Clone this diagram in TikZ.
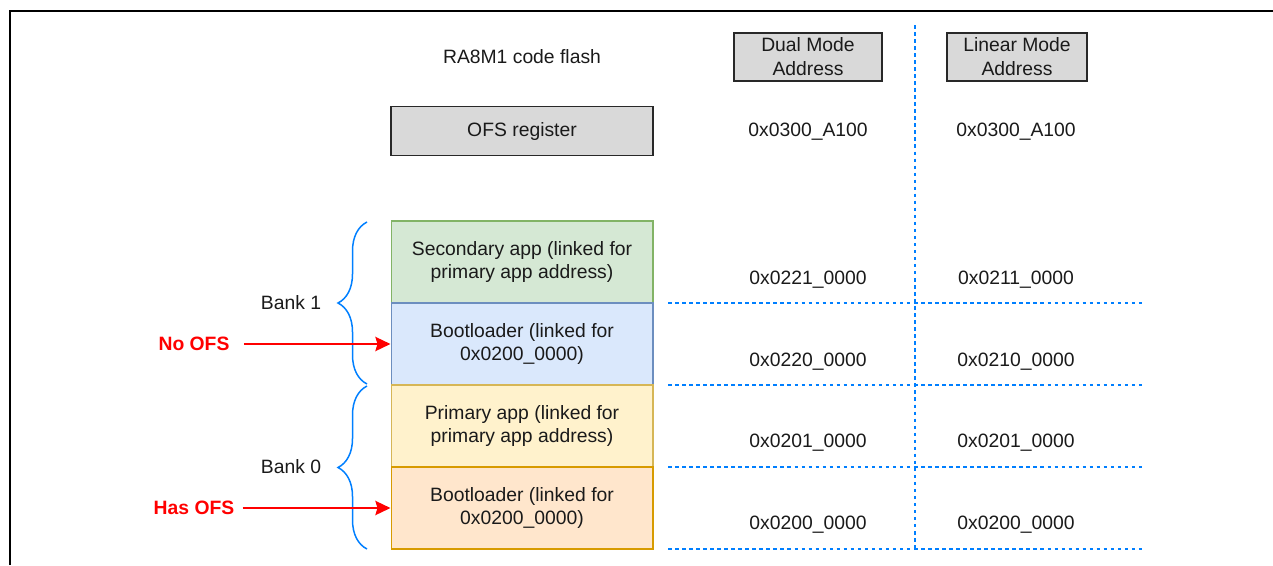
\documentclass[tikz,border=0pt]{standalone}
\usepackage{fontspec}
\setmainfont{Liberation Sans}
\usetikzlibrary{arrows.meta}
\usetikzlibrary{decorations.pathreplacing}
\usepackage{xcolor}

\definecolor{hdrgray}{RGB}{217,217,217}
\definecolor{hdrline}{RGB}{40,40,40}
\definecolor{linkblue}{RGB}{0,127,255}
\definecolor{ofsred}{RGB}{255,0,0}
\definecolor{greenfill}{RGB}{213,232,212}
\definecolor{greenline}{RGB}{130,179,102}
\definecolor{bluefill}{RGB}{218,232,252}
\definecolor{blueline}{RGB}{108,142,191}
\definecolor{yellowfill}{RGB}{255,242,204}
\definecolor{yellowline}{RGB}{214,182,86}
\definecolor{orangefill}{RGB}{255,230,204}
\definecolor{orangeline}{RGB}{215,155,0}
\definecolor{inktext}{RGB}{26,26,26}

\begin{document}
\begin{tikzpicture}[x=0.02cm,y=-0.02cm]

    \tikzset{txt/.style = {inner sep=0pt,text=inktext,font=\fontsize{11}{13.6}\selectfont,align=center}}
    \tikzset{hdr/.style = {txt,draw=hdrline,fill=hdrgray,line width=0.7pt}}
    \tikzset{block/.style = {txt,draw,line width=0.6pt,minimum width=5.24cm,minimum height=1.64cm}}
    \tikzset{addrline/.style = {draw=linkblue,line width=0.85pt,dash pattern=on 2pt off 2pt}}
    \tikzset{bank/.style = {draw=linkblue,line width=0.85pt,decorate,decoration={brace,amplitude=0.58cm}}}
    \tikzset{ofsarrow/.style = {->,> = {Stealth[length=0.3cm,width=0.28cm,inset=0.04cm]},draw=ofsred,line width=1.6pt}}
    \tikzset{ofslabel/.style = {txt,text=ofsred,font=\fontsize{11}{13.6}\selectfont\bfseries}}

    \useasboundingbox (0,0) rectangle (1273,565);
    \draw[line width=0.04cm] (10,565) -- (10,11) -- (1273,11);

    %headers
    \node[txt] (title) at (522,57) {RA8M1 code flash};
    \node[hdr,minimum width=2.96cm,minimum height=0.96cm] (dual) at (808,57) {Dual Mode\\Address};
    \node[hdr,minimum width=2.8cm,minimum height=0.96cm] (linear) at (1017,57) {Linear Mode\\Address};
    \node[hdr,minimum width=5.24cm,minimum height=0.98cm] (ofs) at (522,131) {OFS register};
    \node[txt] (dofs) at (808,132) {0x0300\_A100};
    \node[txt] (lofs) at (1016,132) {0x0300\_A100};

    %code flash blocks
    \node[block,draw=greenline,fill=greenfill] (sec) at (522,262) {Secondary app (linked for\\primary app address)};
    \node[block,draw=blueline,fill=bluefill] (bootb) at (522,344) {Bootloader (linked for\\0x0200\_0000)};
    \node[block,draw=yellowline,fill=yellowfill] (prim) at (522,426) {Primary app (linked for\\primary app address)};
    \node[block,draw=orangeline,fill=orangefill] (boota) at (522,508) {Bootloader (linked for\\0x0200\_0000)};

    %addresses
    \node[txt] (dsec) at (808,280) {0x0221\_0000};
    \node[txt] (lsec) at (1016,280) {0x0211\_0000};
    \node[txt] (dbootb) at (808,362) {0x0220\_0000};
    \node[txt] (lbootb) at (1016,362) {0x0210\_0000};
    \node[txt] (dprim) at (808,443) {0x0201\_0000};
    \node[txt] (lprim) at (1016,443) {0x0201\_0000};
    \node[txt] (dboota) at (808,525) {0x0200\_0000};
    \node[txt] (lboota) at (1016,525) {0x0200\_0000};

    %grid lines
    \draw[addrline] (915,25) -- (915,549);
    \draw[addrline] (668,303) -- (1145,303);
    \draw[addrline] (668,385) -- (1145,385);
    \draw[addrline] (668,467) -- (1145,467);
    \draw[addrline] (668,549) -- (1145,549);

    %banks
    \draw[bank] (367,384) -- (367,222);
    \draw[bank] (367,549) -- (367,386);
    \node[txt] (bank1) at (291,303) {Bank 1};
    \node[txt] (bank0) at (291,467) {Bank 0};

    %ofs arrows
    \node[ofslabel] (noofs) at (194,344) {No OFS};
    \node[ofslabel] (hasofs) at (194,508) {Has OFS};
    \draw[ofsarrow,shorten <=0.28cm] (noofs.east) -- (bootb.west);
    \draw[ofsarrow,shorten <=0.16cm] (hasofs.east) -- (boota.west);
\end{tikzpicture}
\end{document}
